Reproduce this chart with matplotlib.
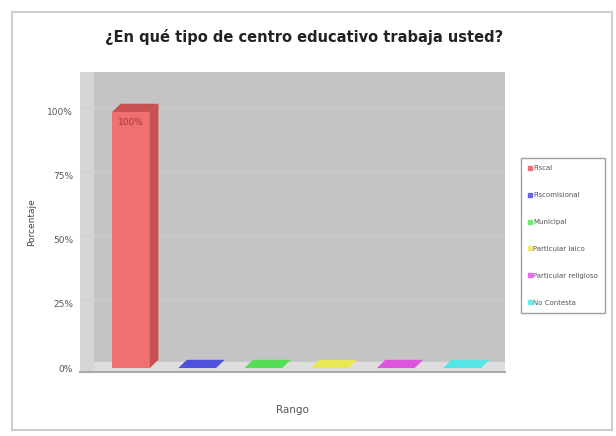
import numpy as np
import matplotlib.pyplot as plt
from matplotlib.patches import Rectangle, Polygon
from matplotlib.lines import Line2D

categorias = ['Fiscal', 'Fiscomisional', 'Municipal', 'Particular laico',
              'Particular religioso', 'No Contesta']
porcentajes = [100, 0, 0, 0, 0, 0]
colores = ['#f07070', '#6666ee', '#66ee66', '#eeee66', '#ee66ee', '#66eeee']
colores_top = ['#c85050', '#5050dd', '#55dd55', '#e8e855', '#dd55dd', '#55e5e5']
ticks = [0, 25, 50, 75, 100]
tick_labels = ['0%', '25%', '50%', '75%', '100%']


def main():
    plt.rcParams['font.family'] = ['DejaVu Sans']
    fig = plt.figure(figsize=(6.16, 4.36), dpi=100)
    fig.patch.set_facecolor('white')

    # outer frame
    fig.patches.append(Rectangle((12 / 616, 6 / 436), 600 / 616, 418 / 436,
                                 transform=fig.transFigure, fill=False,
                                 edgecolor='#cfcfcf', linewidth=1.5))

    ax = fig.add_axes([80 / 616, (436 - 372) / 436, 425 / 616, 300 / 436])
    ax.set_facecolor('#c4c4c4')
    ax.set_xlim(-0.77, 5.65)
    ax.set_ylim(-1.56, 115.6)

    x = np.arange(len(categorias))
    w = 0.57
    dx, dy = 0.13, 3.2

    # floor strip and left wall
    ax.axhspan(-1.56, 2.5, color='#dedede', zorder=0.5)
    ax.axvspan(-0.77, -0.58, color='#d6d6d6', zorder=0.5)
    for t in ticks[1:]:
        ax.axhline(t + dy * 0.5, color='#cdcdcd', linewidth=0.8, zorder=0.6)

    ax.bar(x, porcentajes, width=w, color=colores, zorder=2)
    for xi, v, c in zip(x, porcentajes, colores_top):
        top = Polygon([(xi - w / 2, v), (xi + w / 2, v),
                       (xi + w / 2 + dx, v + dy), (xi - w / 2 + dx, v + dy)],
                      closed=True, facecolor=c, edgecolor='none', zorder=3)
        ax.add_patch(top)
        if v > 0:
            side = Polygon([(xi + w / 2, 0), (xi + w / 2 + dx, dy),
                            (xi + w / 2 + dx, v + dy), (xi + w / 2, v)],
                           closed=True, facecolor='#c85050', edgecolor='none', zorder=3)
            ax.add_patch(side)
            ax.text(xi, v - 4, f'{v}%', ha='center', va='center',
                    fontsize=6.5, color='#a03838', zorder=4)

    ax.set_yticks(ticks)
    ax.set_yticklabels(tick_labels, fontsize=6.5, color='#555555')
    ax.set_xticks([])
    ax.tick_params(axis='y', length=0, pad=5)
    for s in ['top', 'right', 'left']:
        ax.spines[s].set_visible(False)
    ax.spines['bottom'].set_color('#aaaaaa')
    ax.spines['bottom'].set_linewidth(1.5)

    ax.set_ylabel('Porcentaje', fontsize=6.5, color='#444444', labelpad=8)
    ax.set_xlabel('Rango', fontsize=7.5, color='#555555', labelpad=24)

    fig.text(0.493, 1 - 37 / 436, '¿En qué tipo de centro educativo trabaja usted?',
             ha='center', va='center', fontsize=10.5, fontweight='bold', color='#222222')

    handles = [Line2D([], [], marker='s', linestyle='none', markersize=3.5,
                      markerfacecolor=c, markeredgecolor=c) for c in colores]
    leg = fig.legend(handles, categorias, loc='upper left',
                     bbox_to_anchor=(518 / 616, 1 - 155 / 436), fontsize=5,
                     frameon=True, fancybox=False, edgecolor='#888888',
                     handlelength=0.5, handletextpad=0.2, labelspacing=3.0,
                     borderpad=1.0)
    for t in leg.get_texts():
        t.set_color('#555555')

    plt.savefig('out.png', dpi=100)


if __name__ == "__main__":
    main()
